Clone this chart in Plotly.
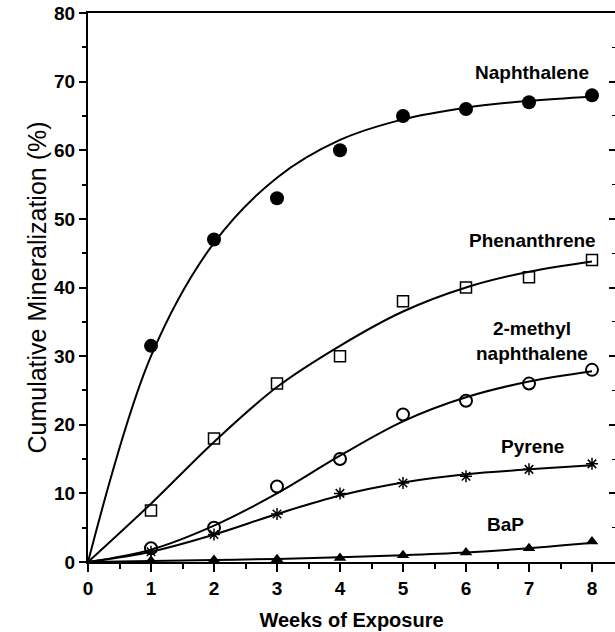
import plotly.graph_objects as go

weeks = [1, 2, 3, 4, 5, 6, 7, 8]
curve_weeks = [0, 1, 2, 3, 4, 5, 6, 7, 8]

naph_obs = [31.5, 47, 53, 60, 65, 66, 67, 68]
naph_fit = [0, 30, 46.5, 56, 61.5, 64.5, 66.2, 67.2, 67.8]

phen_obs = [7.5, 18, 26, 30, 38, 40, 41.5, 44]
phen_fit = [0, 8.5, 17.5, 25.5, 31.5, 36.5, 40, 42.3, 43.8]

mnap_obs = [2, 5, 11, 15, 21.5, 23.5, 26, 28]
mnap_fit = [0, 1.8, 5.3, 10, 15.5, 20.5, 24, 26.3, 27.8]

pyr_obs = [1.5, 4, 7, 10, 11.5, 12.5, 13.5, 14.3]
pyr_fit = [0, 1.5, 4, 7, 9.7, 11.6, 12.8, 13.5, 14.1]

bap_obs = [0.2, 0.3, 0.4, 0.6, 1.0, 1.4, 2.0, 3.0]
bap_fit = [0, 0.15, 0.3, 0.45, 0.7, 1.0, 1.4, 2.0, 2.8]

labels = ["Naphthalene", "Phenanthrene", "2-methyl<br>naphthalene", "Pyrene", "BaP"]
label_x = [7.05, 7.05, 7.05, 7.05, 6.62]
label_y = [71.3, 46.9, 32.2, 16.8, 5.4]

FONT = "Liberation Sans, Arial, sans-serif"

fig = go.Figure()

series = [
    (naph_obs, naph_fit, dict(symbol="circle", size=14, color="black")),
    (phen_obs, phen_fit, dict(symbol="square-open", size=11, color="black", line=dict(width=1.5, color="black"))),
    (mnap_obs, mnap_fit, dict(symbol="circle-open", size=12, color="black", line=dict(width=2, color="black"))),
    (pyr_obs, pyr_fit, dict(symbol="asterisk-open", size=10, color="black", line=dict(width=1.5, color="black"))),
    (bap_obs, bap_fit, dict(symbol="triangle-up", size=11, color="black")),
]

for obs, fit, mk in series:
    fig.add_trace(go.Scatter(x=curve_weeks, y=fit, mode="lines", line=dict(color="black", width=2, shape="spline", smoothing=1.0),
                             showlegend=False, hoverinfo="skip"))
    fig.add_trace(go.Scatter(x=weeks, y=obs, mode="markers", marker=mk, showlegend=False))

# right-side ticks (axis itself beyond frame)
fig.add_trace(go.Scatter(x=[None], y=[None], yaxis="y2", showlegend=False))

for t, x, y in zip(labels, label_x, label_y):
    fig.add_annotation(x=x, y=y, text=t, showarrow=False, xref="x", yref="y",
                       font=dict(family=FONT, size=19, color="black", weight="bold"))

fig.update_layout(
    width=615, height=632,
    margin=dict(l=88, r=0, t=13, b=70),
    plot_bgcolor="white", paper_bgcolor="white",
    xaxis=dict(range=[0, 8.365], tickvals=list(range(0, 9)), showline=True, linecolor="black", linewidth=2,
               mirror=True, ticks="outside", ticklen=8, tickwidth=2, tickcolor="black",
               minor=dict(tickvals=[0.5 + i for i in range(8)], ticks="outside", ticklen=5, tickwidth=2, tickcolor="black"),
               showgrid=False, zeroline=False,
               tickfont=dict(family=FONT, size=19, color="black", weight="bold"),
               title=dict(text="Weeks of Exposure", font=dict(family=FONT, size=20, color="black", weight="bold"), standoff=15)),
    yaxis=dict(range=[0, 80], tickvals=list(range(0, 81, 10)), showline=True, linecolor="black", linewidth=2,
               ticks="outside", ticklen=7, tickwidth=2, tickcolor="black",
               minor=dict(tickvals=list(range(5, 80, 10)), ticks="outside", ticklen=4, tickwidth=2, tickcolor="black"),
               showgrid=False, zeroline=False,
               tickfont=dict(family=FONT, size=19, color="black", weight="bold"),
               title=dict(text="Cumulative Mineralization (%)", font=dict(family=FONT, size=25, color="black"), standoff=0)),
    yaxis2=dict(range=[0, 80], overlaying="y", side="right", anchor="x", tickvals=list(range(10, 81, 10)),
                showticklabels=False, showline=False, showgrid=False, zeroline=False,
                ticks="inside", ticklen=6, tickwidth=2, tickcolor="black",
                minor=dict(tickvals=list(range(5, 80, 10)), ticks="inside", ticklen=3, tickwidth=1, tickcolor="black")),
)

fig.write_html("out.html")
